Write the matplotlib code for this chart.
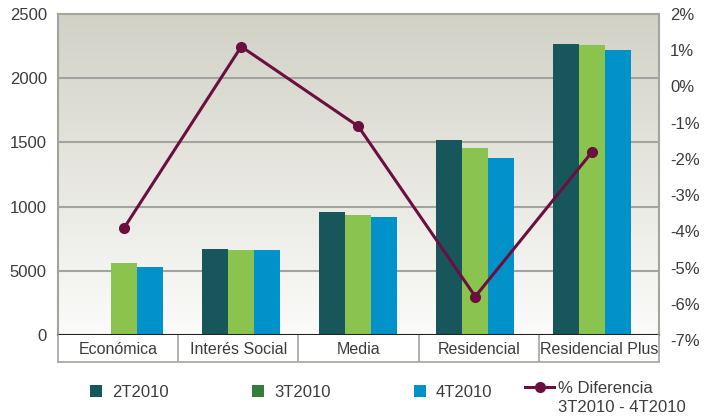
import numpy as np
import matplotlib
matplotlib.use("Agg")
import matplotlib.pyplot as plt
from matplotlib.patches import Patch
from matplotlib.lines import Line2D

plt.rcParams['font.family'] = ['Liberation Sans', 'DejaVu Sans']

categories = ["Económica", "Interés Social", "Media", "Residencial", "Residencial Plus"]
series_names = ["2T2010", "3T2010", "4T2010"]
vals_2t = [0, 670, 960, 1517, 2269]
vals_3t = [561, 662, 932, 1459, 2259]
vals_4t = [530, 662, 921, 1376, 2220]
pct_diff = [-3.9, 1.1, -1.1, -5.8, -1.8]
line_label = ["% Diferencia", "3T2010 - 4T2010"]

left_ticks = [0, 500, 1000, 1500, 2000, 2500]
left_labels = ["0", "5000", "1000", "1500", "2000", "2500"]
right_ticks = [2, 1, 0, -1, -2, -3, -4, -5, -6, -7]

bar_colors = ["#17575c", "#8bc34f", "#0092c8"]
legend_colors = ["#17575c", "#347d3a", "#0092c8"]
line_color = "#6a0f3e"
text_color = "#3c3c3c"
grid_color = "#a3a3a0"

W, H = 711, 419
fig = plt.figure(figsize=(W / 100, H / 100), dpi=100)
fig.patch.set_facecolor("white")

L, R, T, B = 58, 659, 14, 335
ax = fig.add_axes([L / W, 1 - B / H, (R - L) / W, (B - T) / H])

n = len(categories)
x = np.arange(n)
# bar groups sit on a slightly tighter spacing than the label band
xl = (-0.566, 4.57)
ax.set_xlim(*xl)
ax.set_ylim(0, 2500)

# gradient background
grad = np.linspace(0, 1, 256).reshape(-1, 1)
top_c = np.array([0.824, 0.820, 0.776])
bot_c = np.array([0.985, 0.985, 0.980])
img = bot_c + (top_c - bot_c) * grad[..., None]
ax.imshow(img, extent=[xl[0], xl[1], 0, 2500], origin="lower", aspect="auto", zorder=0)

for yv in [500, 1000, 1500, 2000]:
    ax.axhline(yv, color=grid_color, lw=1.5, zorder=1)

w = 0.222
for i, (vals, c) in enumerate(zip([vals_2t, vals_3t, vals_4t], bar_colors)):
    ax.bar(x + (i - 1) * w, vals, width=w, color=c, zorder=2, edgecolor="none")

ax.set_yticks(left_ticks)
ax.set_yticklabels(left_labels, fontsize=12, color=text_color)
ax.tick_params(axis="y", length=0, pad=8)
ax.set_xticks([])
ax.set_xlim(*xl)
ax.set_ylim(0, 2500)
for s in ["top", "left", "right"]:
    ax.spines[s].set_color(grid_color)
    ax.spines[s].set_linewidth(1.5)
ax.spines["bottom"].set_color("#222222")
ax.spines["bottom"].set_linewidth(1.5)

# category label band
lab = fig.add_axes([L / W, 1 - 362 / H, (R - L) / W, (362 - B) / H])
lab.set_xlim(-0.5, n - 0.5)
lab.set_ylim(0, 1)
lab.set_xticks([])
lab.set_yticks([])
for s in lab.spines.values():
    s.set_color(grid_color)
    s.set_linewidth(1.2)
lab.spines["top"].set_visible(False)
for b in np.arange(0.5, n - 0.5, 1):
    lab.axvline(b, color=grid_color, lw=1.2)
for xi, c in zip(x, categories):
    lab.text(xi, 0.45, c, ha="center", va="center", fontsize=11.5, color=text_color)

# percent line on its own axis
ax2 = fig.add_axes([L / W, 1 - 340 / H, (R - L) / W, (340 - T) / H])
ax2.patch.set_visible(False)
ax2.set_xlim(*xl)
ax2.set_ylim(-7, 2)
ax2.plot(x, pct_diff, color=line_color, lw=2.2, marker="o", markersize=7, zorder=5)
ax2.set_xticks([])
ax2.yaxis.tick_right()
ax2.set_yticks(right_ticks)
ax2.set_yticklabels([f"{t}%" for t in right_ticks], fontsize=12, color=text_color)
ax2.tick_params(axis="y", length=0, pad=8)
for s in ax2.spines.values():
    s.set_visible(False)

handles = [Patch(facecolor=c, edgecolor="none") for c in legend_colors]
fig.legend(handles, series_names, loc="center left", bbox_to_anchor=(90 / W, 1 - 392 / H),
           ncol=3, frameon=False, fontsize=12, handlelength=0.72, handleheight=0.72,
           columnspacing=5.0, handletextpad=0.6, labelcolor=text_color,
           borderaxespad=0, borderpad=0)
fig.legend([Line2D([], [], color=line_color, lw=2.2, marker="o", markersize=7)], [line_label[0]],
           loc="center left", bbox_to_anchor=(525 / W, 1 - 388 / H),
           frameon=False, fontsize=12, handlelength=1.75, handletextpad=0.25,
           labelcolor=text_color, borderaxespad=0, borderpad=0)
fig.text(558 / W, 1 - 407 / H, line_label[1], ha="left", va="center",
         fontsize=12, color=text_color)

fig.savefig("out.png", dpi=100)
